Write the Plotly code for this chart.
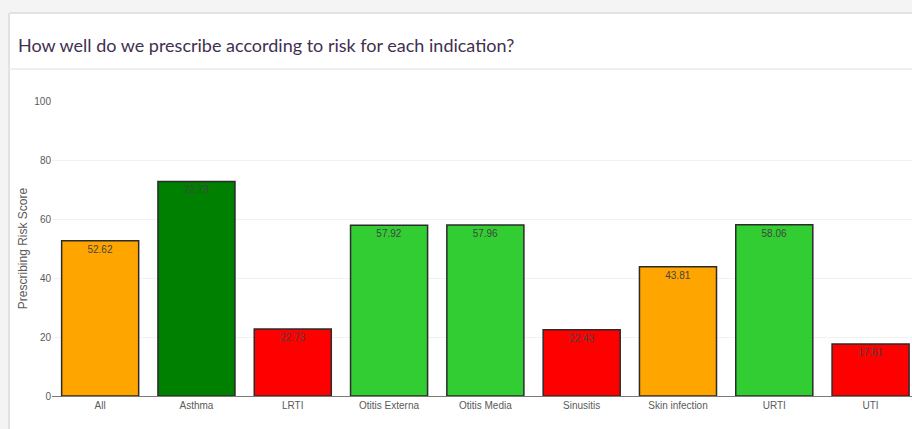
import plotly.graph_objects as go

categories = ["All", "Asthma", "LRTI", "Otitis Externa", "Otitis Media",
              "Sinusitis", "Skin infection", "URTI", "UTI"]
scores = [52.62, 72.73, 22.73, 57.92, 57.96, 22.43, 43.81, 58.06, 17.61]
bar_colors = ["#FFA500", "#008000", "#FF0000", "#32CD32", "#32CD32",
              "#FF0000", "#FFA500", "#32CD32", "#FF0000"]
y_ticks = [0, 20, 40, 60, 80, 100]

W, H = 912, 429
L, R, T, B = 52, 0, 101, 33
pw, ph = W - L - R, H - T - B


def px(x):
    return (x - L) / pw


def py(y):
    return (H - B - y) / ph


fig = go.Figure()
fig.add_trace(go.Bar(
    x=categories, y=scores,
    marker=dict(color=bar_colors, line=dict(color="#2b2b2b", width=1.5)),
    width=0.8,
    text=[f"{v:.2f}" for v in scores],
    textposition="inside", insidetextanchor="end",
    textfont=dict(family="Liberation Sans", size=10, color="#444444"),
    hoverinfo="x+y",
))

shapes = [
    # outer grey background strips
    dict(type="rect", xref="paper", yref="paper", x0=px(0), x1=px(W), y0=py(0), y1=py(12),
         fillcolor="#f4f4f4", line=dict(width=0), layer="below"),
    dict(type="rect", xref="paper", yref="paper", x0=px(0), x1=px(8), y0=py(0), y1=py(H),
         fillcolor="#f4f4f4", line=dict(width=0), layer="below"),
    # card border
    dict(type="line", xref="paper", yref="paper", x0=px(9), x1=px(W), y0=py(13), y1=py(13),
         line=dict(color="#e4e0e7", width=2)),
    dict(type="line", xref="paper", yref="paper", x0=px(9), x1=px(9), y0=py(13), y1=py(H),
         line=dict(color="#e4e0e7", width=2)),
    # divider under title
    dict(type="line", xref="paper", yref="paper", x0=px(9), x1=px(W), y0=py(69), y1=py(69),
         line=dict(color="#eeeeee", width=2)),
]

fig.update_layout(
    width=W, height=H,
    margin=dict(l=L, r=R, t=T, b=B, pad=0),
    paper_bgcolor="white", plot_bgcolor="white",
    showlegend=False,
    bargap=0.2,
    shapes=shapes,
    annotations=[dict(
        text="How well do we prescribe according to risk for each indication?",
        xref="paper", yref="paper", x=px(16), y=py(45),
        xanchor="left", yanchor="middle", showarrow=False,
        font=dict(family="Lato", size=18, color="#3f3050"),
    )],
    xaxis=dict(
        range=[-0.5, 8.43], showgrid=False, zeroline=False,
        showline=True, linecolor="#7a7a7a", linewidth=1,
        ticks="", tickfont=dict(family="Liberation Sans", size=10, color="#5a5a5a"),
    ),
    yaxis=dict(
        range=[0, 100], tickvals=y_ticks, showgrid=True, gridcolor="#f2f2f2",
        zeroline=False, showline=False, ticks="",
        tickfont=dict(family="Liberation Sans", size=10, color="#5a5a5a"),
        title=dict(text="Prescribing Risk Score", standoff=4,
                   font=dict(family="Liberation Sans", size=12, color="#5a5a5a")),
    ),
)

fig.write_html("out.html")
